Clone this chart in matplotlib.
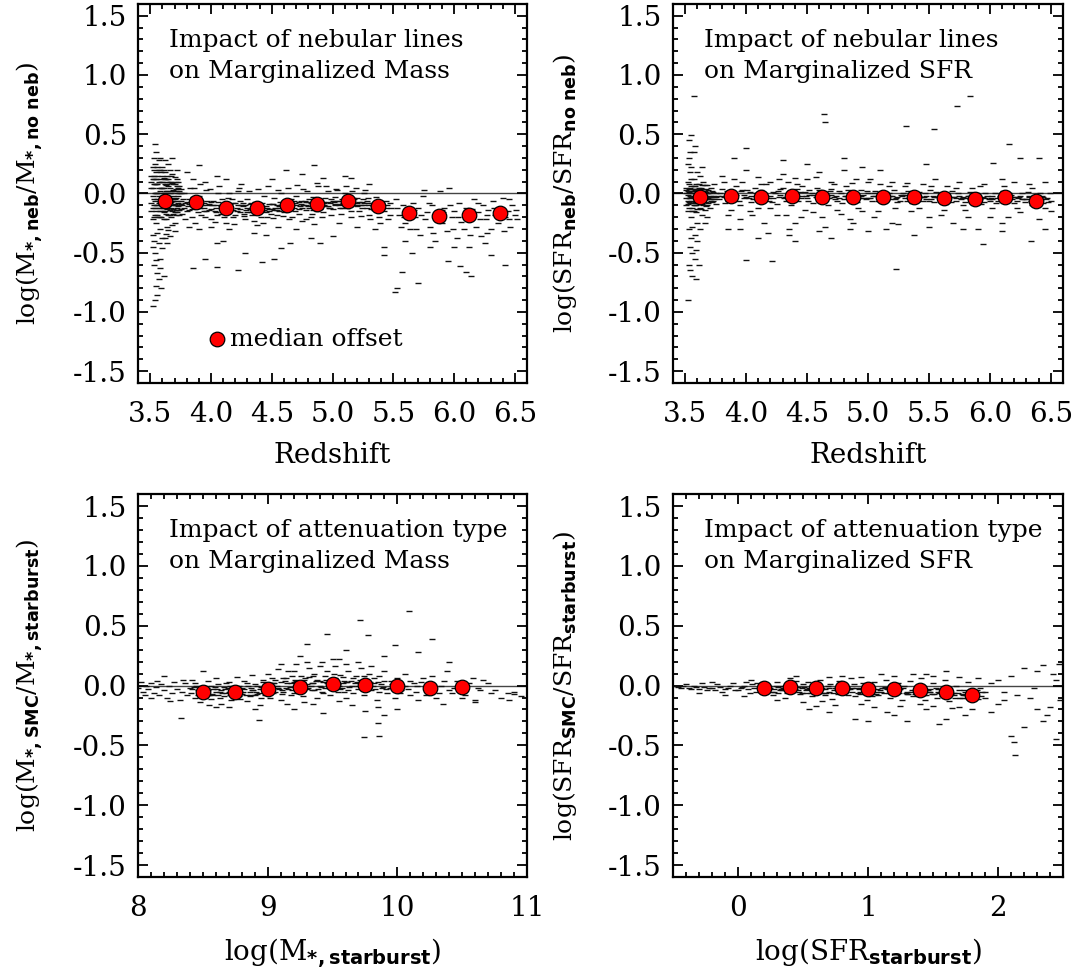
import numpy as np
import matplotlib
matplotlib.use('Agg')
import matplotlib.pyplot as plt
from matplotlib.ticker import MultipleLocator

plt.rcParams['font.family'] = ['DejaVu Serif']
plt.rcParams['mathtext.fontset'] = 'custom'
plt.rcParams['mathtext.rm'] = 'DejaVu Sans:bold'
plt.rcParams['mathtext.it'] = 'DejaVu Sans:bold'
plt.rcParams['mathtext.bf'] = 'DejaVu Sans:bold'

# median offsets (red circles)
z_bins = [3.625, 3.875, 4.125, 4.375, 4.625, 4.875, 5.125, 5.375, 5.625, 5.875, 6.125, 6.375]
neb_mass_med = [-0.063, -0.076, -0.12, -0.12, -0.094, -0.089, -0.063, -0.107, -0.168, -0.194, -0.186, -0.168]
neb_sfr_med = [-0.031, -0.024, -0.029, -0.024, -0.029, -0.026, -0.026, -0.034, -0.042, -0.047, -0.031, -0.06]

mass_bins = [8.5, 8.75, 9.0, 9.25, 9.5, 9.75, 10.0, 10.25, 10.5]
att_mass_med = [-0.05, -0.05, -0.029, -0.016, 0.01, 0.003, -0.005, -0.021, -0.016]

sfr_bins = [0.2, 0.4, 0.6, 0.8, 1.0, 1.2, 1.4, 1.6, 1.8]
att_sfr_med = [-0.018, -0.016, -0.018, -0.024, -0.026, -0.029, -0.037, -0.05, -0.076]

# individual galaxies, "x,y" pairs
neb_mass_pts = """
3.51,0.05 3.52,-0.02 3.52,0.12 3.53,-0.1 3.53,0.2 3.54,0.0 3.54,-0.18 3.55,0.08 3.55,-0.25 3.56,0.15
3.56,-0.05 3.57,0.28 3.57,-0.12 3.58,0.02 3.58,-0.3 3.59,0.1 3.59,-0.08 3.6,0.22 3.6,-0.15 3.61,0.05
3.61,-0.22 3.62,0.0 3.62,0.18 3.63,-0.1 3.63,0.12 3.64,-0.03 3.64,-0.28 3.65,0.25 3.65,0.06 3.66,-0.14
3.66,0.0 3.67,0.1 3.67,-0.2 3.68,-0.06 3.68,0.16 3.69,-0.1 3.69,0.03 3.7,-0.16 3.7,0.08 3.71,-0.04
3.72,-0.12 3.72,0.12 3.73,-0.08 3.74,0.02 3.74,-0.18 3.75,-0.06 3.52,-0.35 3.53,0.3 3.55,0.35 3.54,0.42
3.58,0.3 3.62,0.28 3.68,0.3 3.72,0.2 3.57,-0.2 3.6,-0.02 3.61,0.13 3.63,-0.17 3.66,0.2 3.7,-0.25
3.56,0.0 3.59,0.18 3.64,0.08 3.67,-0.04 3.53,0.08 3.51,-0.08 3.55,-0.1 3.58,-0.15 3.62,-0.07 3.65,-0.09
3.69,-0.13 3.73,0.05 3.6,0.1 3.57,0.05 3.64,0.15 3.71,0.1
3.51,0.15 3.51,-0.15 3.52,0.22 3.52,-0.22 3.53,-0.05 3.53,0.12 3.54,0.25 3.54,-0.12 3.55,0.0 3.55,0.18
3.56,-0.18 3.56,0.08 3.57,-0.02 3.57,0.2 3.58,-0.08 3.58,0.12 3.59,0.0 3.59,-0.2 3.6,0.05 3.6,-0.1
3.61,-0.12 3.61,0.2 3.62,-0.15 3.62,0.08 3.63,0.02 3.63,-0.22 3.64,0.1 3.64,-0.08 3.65,-0.02 3.65,-0.18
3.66,0.05 3.66,-0.08 3.67,0.15 3.67,-0.12 3.68,0.02 3.68,-0.15 3.69,0.08 3.69,-0.06 3.7,-0.05 3.7,0.14
3.71,-0.1 3.71,-0.18 3.72,0.0 3.72,-0.06 3.73,-0.14 3.73,0.1 3.74,-0.1 3.74,0.06 3.75,-0.13 3.75,0.0
3.51,0.1 3.52,0.05 3.52,-0.12 3.53,0.15 3.53,-0.2 3.54,0.08 3.54,-0.06 3.55,0.12 3.55,-0.15 3.56,0.22
3.56,-0.1 3.57,0.1 3.57,-0.08 3.58,0.2 3.58,-0.2 3.59,0.05 3.59,-0.12 3.6,0.15 3.6,-0.06 3.61,0.0
3.61,-0.16 3.62,0.12 3.62,-0.02 3.63,0.07 3.63,-0.05 3.64,0.02 3.64,-0.13 3.65,0.12 3.65,-0.12 3.66,0.1
3.66,-0.18 3.67,0.0 3.67,-0.07 3.68,0.09 3.68,-0.1 3.69,-0.02 3.69,-0.17 3.7,0.02 3.7,-0.09 3.71,0.04
3.71,-0.14 3.72,0.06 3.72,-0.16 3.73,-0.02 3.73,-0.11 3.74,0.0 3.74,-0.14 3.75,0.04 3.75,-0.09
3.52,-0.95 3.54,-0.9 3.56,-0.86 3.55,-0.78 3.57,-0.72 3.56,-0.67 3.53,-0.6 3.58,-0.55 3.54,-0.5 3.6,-0.46
3.57,-0.42 3.62,-0.38 3.63,-0.34 3.65,-0.31 3.59,-0.8 3.61,-0.7 3.52,-0.45 3.55,-0.56 3.58,-0.63 3.53,-0.4
3.56,-0.33 3.6,-0.38 3.64,-0.42 3.66,-0.36 3.68,-0.27 3.7,-0.32
3.76,-0.1 3.78,0.0 3.8,-0.15 3.82,-0.05 3.84,-0.2 3.86,0.05 3.88,-0.12 3.9,-0.02 3.92,-0.18 3.94,-0.08
3.96,0.03 3.98,-0.14 4.0,-0.22 4.02,-0.06 4.04,-0.12 4.06,0.0 4.08,-0.17 4.1,-0.09 4.12,-0.25 4.14,-0.04
4.16,-0.14 4.18,-0.2 4.2,-0.08 4.22,0.02 4.24,-0.16 4.26,-0.11 4.28,-0.22 4.3,-0.05 4.32,-0.13 4.34,-0.18
4.36,-0.07 4.38,-0.27 4.4,-0.1 4.42,-0.15 4.44,-0.02 4.46,-0.2 4.48,-0.09 4.5,-0.13 4.52,-0.04 4.54,-0.18
4.56,-0.11 4.58,0.0 4.6,-0.16 4.62,-0.08 4.64,-0.22 4.66,-0.05 4.68,-0.12 4.7,-0.02 4.72,-0.17 4.74,-0.09
4.76,0.04 4.78,-0.14 4.8,-0.07 4.82,-0.2 4.84,-0.03 4.86,-0.12 4.88,0.06 4.9,-0.1 4.92,-0.16 4.94,-0.04
4.96,0.02 4.98,-0.08 5.0,-0.13 5.02,-0.03 5.04,0.03 5.06,-0.09 5.08,-0.05 5.1,0.0 5.12,-0.12 5.14,-0.06
5.16,0.02 5.18,-0.1 5.2,-0.04 5.22,-0.15 5.24,-0.07 5.26,0.0 5.28,-0.12 5.3,-0.18 5.32,-0.08 5.34,-0.14
5.36,-0.03 5.38,-0.2 5.4,-0.1 5.42,-0.15 5.44,-0.06 5.46,-0.22 5.48,-0.12
3.77,-0.05 3.81,-0.11 3.85,-0.08 3.89,-0.16 3.93,-0.1 3.97,-0.06 4.01,-0.1 4.05,-0.18 4.09,-0.13 4.13,-0.09
4.17,-0.05 4.21,-0.15 4.25,-0.1 4.29,-0.14 4.33,-0.08 4.37,-0.12 4.41,-0.2 4.45,-0.11 4.49,-0.17 4.53,-0.12
4.57,-0.07 4.61,-0.1 4.65,-0.14 4.69,-0.08 4.73,-0.11 4.77,-0.06 4.81,-0.12 4.85,-0.09 4.89,-0.05 4.93,-0.1
4.97,-0.12 5.01,-0.07 5.05,-0.1 5.09,-0.08 5.13,-0.03 5.17,-0.07 5.21,-0.1 5.25,-0.05 5.29,-0.08 5.33,-0.11
5.37,-0.09 5.41,-0.13 5.45,-0.1
3.76,-0.17 3.79,-0.08 3.82,-0.14 3.85,-0.03 3.88,-0.07 3.91,-0.12 3.94,-0.15 3.97,-0.1 4.0,-0.07 4.03,-0.15
4.06,-0.1 4.09,-0.05 4.12,-0.15 4.15,-0.11 4.18,-0.08 4.21,-0.12 4.24,-0.06 4.27,-0.17 4.3,-0.12 4.33,-0.16
4.36,-0.14 4.39,-0.08 4.42,-0.11 4.45,-0.16 4.48,-0.13 4.51,-0.09 4.54,-0.14 4.57,-0.12 4.6,-0.06 4.63,-0.12
4.66,-0.1 4.69,-0.15 4.72,-0.07 4.75,-0.12 4.78,-0.1 4.81,-0.05 4.84,-0.1 4.87,-0.15 4.9,-0.06 4.93,-0.08
4.96,-0.11 4.99,-0.05 5.02,-0.1 5.05,-0.06 5.08,-0.12 5.11,-0.07 5.14,-0.09 5.17,-0.04 5.2,-0.08 5.23,-0.1
5.26,-0.08 5.29,-0.04 5.32,-0.13 5.35,-0.1 5.38,-0.06 5.41,-0.08 5.44,-0.12 5.47,-0.08
3.78,-0.12 3.8,-0.07 3.82,-0.09 3.84,-0.13 3.86,-0.1 3.88,-0.03 3.9,-0.09 3.92,-0.06 3.94,-0.12 3.96,-0.15
3.98,-0.09 4.0,-0.13 4.02,-0.1 4.04,-0.16 4.06,-0.07 4.08,-0.11 4.1,-0.14 4.12,-0.07 4.14,-0.12 4.16,-0.09
4.18,-0.14 4.2,-0.18 4.22,-0.1 4.24,-0.13 4.26,-0.08 4.28,-0.1 4.3,-0.16 4.32,-0.09 4.34,-0.12 4.36,-0.1
4.38,-0.15 4.4,-0.13 4.42,-0.08 4.44,-0.14 4.46,-0.12 4.48,-0.15 4.5,-0.09 4.52,-0.14 4.54,-0.1 4.56,-0.15
4.58,-0.1 4.6,-0.12 4.62,-0.15 4.64,-0.09 4.66,-0.13 4.68,-0.06 4.7,-0.1 4.72,-0.13 4.74,-0.06 4.76,-0.1
4.78,-0.07 4.8,-0.11 4.82,-0.08 4.84,-0.14 4.86,-0.07 4.88,-0.1 4.9,-0.13 4.92,-0.07 4.94,-0.11 4.96,-0.07
4.98,-0.12 5.0,-0.06 5.02,-0.09 5.04,-0.06 5.06,-0.12 5.08,-0.09 5.1,-0.06 5.12,-0.04 5.14,-0.11 5.16,-0.08
5.18,-0.05 5.2,-0.11 5.22,-0.07 5.24,-0.12 5.26,-0.1 5.28,-0.06 5.3,-0.1
3.79,-0.22 3.87,-0.25 3.95,-0.2 4.03,-0.24 4.11,-0.2 4.19,-0.26 4.27,-0.19 4.35,-0.23 4.43,-0.25 4.51,-0.21
4.59,-0.19 4.67,-0.2 4.75,-0.23 4.83,-0.17 4.91,-0.2 4.99,-0.18 5.07,-0.17 5.15,-0.15 5.23,-0.19 5.31,-0.22
5.39,-0.25 5.47,-0.18
3.83,0.05 3.91,0.08 3.99,0.04 4.07,0.06 4.15,0.0 4.23,0.05 4.31,0.02 4.39,0.04 4.47,0.06 4.55,0.03
4.63,0.05 4.71,0.07 4.79,0.02 4.87,0.09 4.95,0.06 5.03,0.04 5.11,0.06 5.19,0.05 5.27,0.03
3.8,0.18 3.85,0.12 3.9,0.24 3.95,0.1 4.05,0.15 4.12,0.12 4.25,0.08 4.5,0.12 4.62,0.2 4.75,0.16
4.85,0.24 4.92,0.13 5.1,0.15 5.15,0.13 5.3,0.08 3.85,-0.63 4.05,-0.62 4.22,-0.65 3.95,-0.55 4.42,-0.58
4.52,-0.55 4.58,-0.46 4.1,-0.4 4.05,-0.42 4.28,-0.5 4.9,-0.42 5.0,-0.36 4.65,-0.42 4.82,-0.38 5.42,-0.45
5.42,-0.52 3.9,-0.3 4.0,-0.28 4.15,-0.3 4.35,-0.33 4.55,-0.28 4.7,-0.3 4.85,-0.26 5.05,-0.25 5.2,-0.28
5.35,-0.3 3.82,-0.28 4.45,-0.35 4.78,-0.22 5.15,-0.2
5.52,-0.05 5.55,-0.18 5.58,-0.1 5.6,-0.25 5.62,-0.15 5.64,-0.3 5.66,-0.08 5.68,-0.2 5.7,-0.12 5.72,-0.35
5.74,-0.02 5.76,-0.22 5.78,-0.16 5.8,-0.28 5.82,-0.1 5.84,-0.4 5.86,-0.18 5.88,0.02 5.9,-0.25 5.92,-0.12
5.94,-0.32 5.96,0.05 5.98,-0.2 6.0,-0.15 6.02,-0.38 6.04,-0.08 6.06,-0.24 6.08,-0.3 6.1,-0.12 6.12,-0.45
6.14,-0.2 6.16,-0.05 6.18,-0.28 6.2,-0.16 6.22,-0.36 6.24,-0.1 6.26,-0.22 6.28,-0.14 6.3,-0.3 6.32,-0.06
6.34,-0.18 6.36,-0.25 6.38,-0.12 6.4,-0.04 6.42,-0.2 6.44,-0.15 6.46,-0.28 6.48,-0.1 6.5,-0.18 6.52,-0.22
5.53,-0.12 5.59,-0.2 5.67,-0.14 5.73,-0.18 5.79,-0.08 5.85,-0.22 5.91,-0.16 5.97,-0.1 6.03,-0.2 6.09,-0.17
6.15,-0.13 6.21,-0.22 6.27,-0.18 6.33,-0.12 6.39,-0.2 6.45,-0.22 6.51,-0.14 5.56,-0.28 5.69,-0.3 5.83,-0.33
5.99,-0.3 6.13,-0.35 6.27,-0.33 6.41,-0.32
5.53,-0.8 5.51,-0.83 5.7,-0.76 5.57,-0.66 6.05,-0.61 6.1,-0.66 6.14,-0.7 6.42,-0.6 5.95,-0.57 6.3,-0.52
5.65,-0.5 5.8,-0.45 5.6,-0.4 6.0,-0.45 6.25,-0.42 5.75,0.03 6.45,-0.05 5.63,-0.12 5.9,-0.14 6.2,-0.08
"""

neb_sfr_pts = """
3.51,0.0 3.52,-0.06 3.52,0.1 3.53,-0.12 3.53,0.04 3.54,-0.02 3.54,0.18 3.55,-0.2 3.55,0.06 3.56,-0.08
3.56,0.0 3.57,0.12 3.57,-0.15 3.58,-0.04 3.58,0.03 3.59,-0.1 3.59,0.08 3.6,-0.03 3.6,-0.25 3.61,0.02
3.61,-0.07 3.62,0.15 3.62,-0.12 3.63,-0.02 3.63,0.05 3.64,-0.09 3.64,-0.18 3.65,0.0 3.65,0.1 3.66,-0.05
3.66,-0.14 3.67,0.04 3.67,-0.02 3.68,-0.1 3.68,0.07 3.69,-0.04 3.7,0.0 3.7,-0.12 3.71,0.05 3.72,-0.07
3.73,-0.02 3.74,0.08 3.75,-0.09 3.52,0.25 3.53,0.3 3.55,0.22 3.57,0.35 3.6,0.18 3.64,0.22 3.53,-0.3
3.56,-0.28 3.58,-0.35 3.6,-0.4 3.62,-0.3 3.54,-0.45 3.56,-0.5 3.59,-0.48 3.55,-0.38 3.66,-0.25 3.68,-0.2
3.51,0.05 3.51,-0.1 3.52,0.02 3.52,-0.15 3.53,-0.04 3.53,0.08 3.54,0.0 3.54,-0.08 3.55,-0.03 3.55,0.12
3.56,0.04 3.56,-0.12 3.57,-0.06 3.57,0.02 3.58,0.06 3.58,-0.1 3.59,-0.02 3.59,-0.16 3.6,0.04 3.6,-0.08
3.61,-0.03 3.61,0.08 3.62,-0.05 3.62,0.02 3.63,-0.08 3.63,-0.13 3.64,0.0 3.64,0.04 3.65,-0.06 3.65,-0.1
3.66,0.02 3.66,0.07 3.67,-0.07 3.67,-0.11 3.68,0.0 3.69,-0.08 3.69,0.03 3.7,-0.05 3.71,-0.02 3.72,0.02
3.73,-0.06 3.74,-0.03 3.75,0.0
3.51,0.03 3.51,-0.04 3.52,-0.01 3.52,-0.09 3.53,0.01 3.53,-0.07 3.54,0.05 3.54,-0.04 3.55,-0.06 3.55,0.02
3.56,-0.02 3.56,-0.15 3.57,0.06 3.57,-0.1 3.58,0.0 3.58,-0.07 3.59,0.04 3.59,-0.05 3.6,0.0 3.6,-0.13
3.61,-0.05 3.61,0.05 3.62,-0.08 3.62,0.0 3.63,0.02 3.63,-0.04 3.64,-0.05 3.64,0.07 3.65,-0.03 3.66,-0.02
3.67,0.01 3.68,-0.05 3.69,0.0 3.7,-0.03 3.71,-0.06 3.72,-0.03 3.73,0.01 3.74,-0.05 3.75,-0.03
3.52,-0.9 3.59,-0.72 3.54,-0.65 3.56,-0.7 3.53,-0.6 3.58,-0.55 3.61,-0.6
3.57,0.82 3.55,0.49 3.53,0.45 3.58,0.4 3.54,0.35
3.77,-0.02 3.8,0.04 3.83,-0.08 3.86,0.0 3.89,-0.05 3.92,0.06 3.95,-0.1 3.98,-0.01 4.01,0.03 4.04,-0.07
4.07,0.05 4.1,-0.12 4.13,-0.03 4.16,0.08 4.19,-0.06 4.22,0.01 4.25,-0.09 4.28,0.04 4.31,-0.04 4.34,0.1
4.37,-0.1 4.4,0.0 4.43,-0.06 4.46,0.06 4.49,-0.02 4.52,0.03 4.55,-0.08 4.58,0.05 4.61,-0.04 4.64,0.0
4.67,-0.1 4.7,0.04 4.73,-0.05 4.76,0.02 4.79,-0.08 4.82,0.06 4.85,-0.03 4.88,0.01 4.91,-0.07 4.94,0.03
4.97,-0.04 5.0,0.0 5.03,-0.06 5.06,0.02 5.09,-0.03 5.12,-0.08 5.15,0.01 5.18,-0.05 5.21,0.03 5.24,-0.07
5.27,-0.01 5.3,-0.04 5.33,0.02 5.36,-0.08 5.39,-0.03 5.42,0.01 5.45,-0.06 5.48,-0.02 5.51,0.03 5.54,-0.07
5.57,-0.03 5.6,0.0 5.63,-0.09 5.66,-0.04 5.69,0.02 5.72,-0.06 5.75,-0.02 5.78,-0.1 5.81,-0.04 5.84,0.01
5.87,-0.07 5.9,-0.03 5.93,-0.09 5.96,0.0 5.99,-0.05 6.02,-0.02 6.05,-0.08 6.08,-0.03 6.11,0.02 6.14,-0.06
6.17,-0.01 6.2,-0.08 6.23,-0.04 6.26,0.0 6.29,-0.07 6.32,-0.03 6.35,-0.1 6.38,-0.05 6.41,0.0 6.44,-0.08
6.47,-0.04 6.5,-0.06
3.78,-0.05 3.84,0.02 3.9,-0.03 3.96,0.02 4.02,-0.04 4.08,0.0 4.14,-0.05 4.2,-0.02 4.26,0.02 4.32,-0.03
4.38,-0.06 4.44,0.01 4.5,-0.04 4.56,-0.01 4.62,0.02 4.68,-0.04 4.74,-0.02 4.8,-0.05 4.86,0.0 4.92,-0.02
4.98,-0.05 5.04,-0.02 5.1,0.0 5.16,-0.03 5.22,-0.05 5.28,-0.02 5.34,-0.04 5.4,-0.06 5.46,-0.03 5.52,-0.05
5.58,-0.02 5.64,-0.05 5.7,-0.03 5.76,-0.05 5.82,-0.02 5.88,-0.05 5.94,-0.03 6.0,-0.06 6.06,-0.04 6.12,-0.02
6.18,-0.05 6.24,-0.03 6.3,-0.05 6.36,-0.02 6.42,-0.05 6.48,-0.07
3.8,-0.02 3.86,-0.03 3.92,-0.01 3.98,-0.04 4.04,-0.02 4.1,-0.04 4.16,-0.02 4.22,-0.04 4.28,-0.01 4.34,-0.04
4.4,-0.03 4.46,-0.02 4.52,-0.01 4.58,-0.03 4.64,-0.04 4.7,-0.01 4.76,-0.04 4.82,-0.02 4.88,-0.04 4.94,-0.02
5.0,-0.04 5.06,-0.02 5.12,-0.04 5.18,-0.02 5.24,-0.03 5.3,-0.01 5.36,-0.04 5.42,-0.02 5.48,-0.05 5.54,-0.03
5.6,-0.04 5.66,-0.02 5.72,-0.04 5.78,-0.03 5.84,-0.05 5.9,-0.02 5.96,-0.04 6.02,-0.05 6.08,-0.02 6.14,-0.04
6.2,-0.03 6.26,-0.05 6.32,-0.02 6.38,-0.06 6.44,-0.03
3.79,0.0 3.82,-0.03 3.85,-0.06 3.88,0.02 3.91,-0.02 3.94,-0.06 3.97,0.03 4.0,-0.03 4.03,0.01 4.06,-0.05
4.09,-0.02 4.12,0.03 4.15,-0.01 4.18,-0.04 4.21,-0.07 4.24,0.0 4.27,-0.03 4.3,0.05 4.33,-0.06 4.36,0.02
4.39,-0.02 4.42,0.04 4.45,-0.04 4.48,0.01 4.51,-0.06 4.54,0.0 4.57,-0.03 4.6,0.03 4.63,-0.06 4.66,-0.01
4.69,0.02 4.72,-0.03 4.75,-0.06 4.78,0.0 4.81,-0.02 4.84,0.03 4.87,-0.05 4.9,0.0 4.93,-0.04 4.96,-0.01
4.99,0.02 5.02,-0.04 5.05,0.0 5.08,-0.06 5.11,-0.02 5.14,-0.04 5.17,0.0 5.2,-0.02 5.23,-0.04 5.26,-0.06
5.29,0.0 5.32,-0.06 5.35,-0.02 5.38,0.0 5.41,-0.05 5.44,-0.03 5.47,0.0 5.5,-0.06 5.53,-0.02 5.56,0.01
5.59,-0.05 5.62,-0.03 5.65,0.0 5.68,-0.07 5.71,-0.03 5.74,0.0 5.77,-0.04 5.8,-0.07 5.83,-0.02 5.86,-0.04
5.89,0.0 5.92,-0.05 5.95,-0.07 5.98,-0.02 6.01,-0.04 6.04,0.0 6.07,-0.06 6.1,-0.03 6.13,-0.05 6.16,0.0
6.19,-0.03 6.22,-0.06 6.25,-0.02 6.28,-0.05 6.31,0.01 6.34,-0.06 6.37,-0.04 6.4,-0.07 6.43,-0.02 6.46,-0.05
6.49,0.0
3.8,0.15 3.85,-0.18 3.9,0.12 3.95,-0.22 4.0,0.2 4.03,-0.15 4.1,0.14 4.15,-0.25 4.2,0.1 4.25,-0.18
4.3,0.16 4.35,-0.3 4.4,0.13 4.45,-0.2 4.5,0.12 4.55,-0.16 4.6,0.18 4.65,-0.28 4.7,0.1 4.75,-0.14
4.8,0.2 4.85,-0.22 4.9,0.12 4.95,-0.15 5.0,0.1 5.05,-0.2 5.1,0.08 5.15,-0.3 5.2,0.1 5.25,-0.26
5.3,0.06 5.35,-0.15 5.45,0.08 5.5,-0.2 5.55,0.12 5.6,-0.18 5.65,0.06 5.7,-0.25 5.75,0.1 5.8,-0.14
5.85,0.05 5.9,-0.3 5.95,0.08 6.0,-0.2 6.1,0.12 6.15,-0.2 6.2,0.1 6.25,-0.16 6.35,0.05 6.4,-0.22
6.45,0.1 6.5,-0.15
3.82,0.1 3.88,-0.14 3.97,0.1 4.05,-0.18 4.12,0.08 4.2,-0.12 4.27,0.12 4.33,-0.18 4.42,0.08 4.48,-0.14
4.57,0.14 4.62,-0.2 4.72,0.08 4.78,-0.17 4.87,0.09 4.92,-0.12 5.02,0.12 5.08,-0.15 5.17,0.06 5.22,-0.12
5.32,0.09 5.42,-0.12 5.52,0.06 5.62,-0.14 5.72,0.05 5.82,-0.2 5.92,0.06 6.02,-0.12 6.12,0.06 6.22,-0.12
6.32,0.08 6.45,-0.12 3.85,-0.3 4.18,-0.33 4.4,-0.25 4.6,-0.32 4.88,-0.25 5.2,-0.25 5.5,-0.28 5.78,-0.3
6.1,-0.25 6.45,-0.3
4.21,1.35 4.42,1.06 4.64,0.67 4.65,0.6 5.84,0.82 5.73,0.74 5.31,0.57 5.54,0.54 4.0,0.38 6.16,0.42
6.25,0.3 6.4,0.3 6.03,0.26 5.48,0.25 4.0,-0.56 4.21,-0.57 5.23,-0.64 5.94,-0.43 6.34,-0.4 4.4,-0.4
4.35,-0.35 4.1,-0.38 5.38,-0.35 6.1,-0.32 4.85,-0.3 5.0,-0.32 4.7,-0.38 3.95,-0.3 4.5,0.25 4.95,0.22
3.9,0.3 4.3,0.28 5.1,0.2 4.8,0.3
"""

att_mass_pts = """
8.0,-0.02 8.02,0.03 8.04,-0.05 8.06,0.0 8.08,-0.03 8.1,0.02 8.12,-0.06 8.14,-0.01 8.16,-0.08 8.18,0.01
8.2,-0.04 8.22,-0.1 8.24,0.0 8.26,-0.06 8.28,0.03 8.3,-0.03 8.32,-0.12 8.34,-0.05 8.36,0.02 8.38,-0.08
8.4,-0.02 8.42,0.05 8.44,-0.1 8.46,-0.04 8.48,-0.14 8.5,0.0 8.52,-0.07 8.54,0.04 8.56,-0.11 8.58,-0.03
8.6,0.06 8.62,-0.08 8.64,-0.15 8.66,-0.01 8.68,-0.06 8.7,0.03 8.72,-0.12 8.74,-0.04 8.76,0.07 8.78,-0.09
8.8,-0.02 8.82,0.04 8.84,-0.13 8.86,-0.05 8.88,0.09 8.9,-0.08 8.92,0.0 8.94,-0.16 8.96,0.05 8.98,-0.03
9.0,0.1 9.02,-0.1 9.04,0.02 9.06,-0.05 9.08,0.14 9.1,-0.12 9.12,0.06 9.14,-0.02 9.16,0.12 9.18,-0.08
9.2,0.03 9.22,0.18 9.24,-0.06 9.26,0.08 9.28,-0.14 9.3,0.01 9.32,0.15 9.34,-0.04 9.36,0.1 9.38,-0.1
9.4,0.04 9.42,0.2 9.44,-0.02 9.46,0.12 9.48,-0.08 9.5,0.06 9.52,0.16 9.54,-0.05 9.56,0.09 9.58,0.02
9.6,-0.1 9.62,0.12 9.64,0.04 9.66,-0.06 9.68,0.08 9.7,0.0 9.72,0.15 9.74,-0.08 9.76,0.05 9.78,0.1
9.8,-0.04 9.82,0.02 9.84,-0.12 9.86,0.08 9.88,-0.02 9.9,0.12 9.92,-0.06 9.95,0.04 9.98,-0.1 10.0,0.06
10.03,-0.04 10.06,0.1 10.1,-0.08 10.13,0.02 10.16,-0.12 10.2,0.06 10.23,-0.04 10.27,0.08 10.3,-0.1 10.34,0.0
10.38,0.12 10.42,-0.06 10.46,0.04 10.5,-0.1 10.55,0.02 10.6,-0.12 10.66,0.05 10.72,-0.06 10.8,-0.1 10.86,-0.12
10.9,-0.07
8.41,-0.06 8.45,0.0 8.49,-0.05 8.53,-0.02 8.57,-0.07 8.61,-0.03 8.65,-0.06 8.69,-0.02 8.73,-0.07 8.77,-0.03
8.81,-0.05 8.85,0.0 8.89,-0.04 8.93,-0.06 8.97,-0.01 9.01,-0.04 9.05,0.02 9.09,-0.03 9.13,0.04 9.17,-0.01
9.21,0.05 9.25,-0.02 9.29,0.06 9.33,0.0 9.37,0.04 9.41,-0.01 9.45,0.05 9.49,0.01 9.53,0.04 9.57,-0.02
9.61,0.03 9.65,0.0 9.69,0.03 9.73,-0.02 9.77,0.02 9.81,0.0 9.85,0.03 9.89,-0.01 8.63,-0.1 8.71,0.0
8.79,-0.11 8.87,-0.08 8.95,-0.1 9.03,0.06 9.11,-0.07 9.19,0.08 9.27,-0.09 9.35,0.08 9.43,-0.06 9.51,0.1
9.59,-0.05
8.42,-0.03 8.44,0.02 8.46,-0.08 8.48,-0.01 8.5,-0.05 8.52,-0.1 8.54,-0.04 8.56,0.0 8.58,-0.08 8.6,-0.05
8.62,0.01 8.64,-0.04 8.66,-0.09 8.68,0.02 8.7,-0.05 8.72,-0.02 8.74,-0.1 8.76,-0.05 8.78,0.0 8.8,-0.07
8.82,-0.03 8.84,0.02 8.86,-0.09 8.88,-0.04 8.9,0.01 8.92,-0.07 8.94,-0.03 8.96,0.03 8.98,-0.08 9.0,-0.04
9.02,0.02 9.04,-0.06 9.06,0.05 9.08,-0.02 9.1,0.03 9.12,-0.05 9.14,0.06 9.16,-0.03 9.18,0.02 9.2,-0.06
9.22,0.04 9.24,0.0 9.26,-0.05 9.28,0.05 9.3,-0.03 9.32,0.07 9.34,0.02 9.36,-0.04 9.38,0.05 9.4,0.0
9.42,-0.05 9.44,0.08 9.46,0.02 9.48,0.04 9.5,-0.02 9.52,0.06 9.54,0.01 9.56,-0.03 9.58,0.07 9.6,0.03
9.62,-0.04 9.66,0.06 9.7,-0.03 9.74,0.08 9.78,-0.02 9.82,0.06 9.86,-0.05 9.9,0.04 9.94,-0.02 9.98,0.02
10.02,-0.06 10.06,0.0 10.1,0.04 10.14,-0.05 10.18,0.03 10.22,-0.08 10.26,0.0 10.32,-0.06 10.36,0.04 10.44,-0.02
10.52,-0.08 10.58,0.06 10.64,-0.04 10.7,0.02
8.43,-0.01 8.47,-0.06 8.51,-0.03 8.55,-0.08 8.59,-0.01 8.63,-0.05 8.67,-0.03 8.71,-0.08 8.75,-0.01 8.79,-0.05
8.83,-0.08 8.87,-0.02 8.91,-0.05 8.95,-0.01 8.99,-0.06 9.03,-0.02 9.07,0.0 9.11,-0.04 9.15,0.02 9.19,-0.04
9.23,0.01 9.27,0.03 9.31,-0.02 9.35,0.02 9.39,-0.03 9.43,0.03 9.47,-0.02 9.51,0.03 9.55,0.0 9.59,0.04
9.63,-0.01 9.67,0.02 9.71,0.05 9.75,0.0 9.79,0.03 9.83,-0.03 9.87,0.01 9.91,-0.03 9.96,0.01 10.01,-0.02
10.08,-0.03 10.15,0.0 10.24,-0.03 10.4,-0.04 10.48,0.0 10.62,-0.02 10.75,-0.04 10.85,-0.06 10.95,-0.09
9.1,0.18 9.2,0.12 9.3,0.2 9.4,0.16 9.5,0.22 9.6,0.18 9.7,0.2 9.8,0.16 9.15,-0.15 9.35,-0.15
9.55,-0.13 9.65,-0.16 9.85,-0.18 8.7,-0.18 8.9,-0.2 8.55,-0.16 8.25,-0.13 8.05,-0.08 8.15,0.04 8.35,0.05
9.71,0.55 10.09,0.62 9.77,0.42 10.27,0.39 9.46,0.43 9.98,0.34 10.16,0.28 9.3,0.35 9.6,0.3 9.9,0.25
10.4,0.2 9.25,0.25 9.55,0.22 9.74,-0.43 9.86,-0.42 9.85,-0.31 8.93,-0.29 8.33,-0.27 9.43,-0.23 9.75,-0.21
9.9,-0.25 10.0,-0.2 9.2,-0.2 8.6,-0.18 10.35,-0.15 10.6,-0.14 8.2,0.08 8.5,0.12 10.9,-0.05 8.1,-0.1
"""

att_sfr_pts = """
-0.48,0.0 -0.44,-0.02 -0.4,0.01 -0.36,-0.03 -0.32,-0.01 -0.28,0.02 -0.24,-0.04 -0.2,-0.02 -0.16,0.01 -0.12,-0.05
-0.08,-0.02 -0.04,0.02 0.0,-0.04 0.03,-0.01 0.06,0.03 0.09,-0.06 0.12,-0.02 0.15,0.02 0.18,-0.04 -0.1,-0.08
-0.3,-0.06 0.05,-0.09 -0.2,0.03 0.1,0.05
-0.46,-0.01 -0.42,0.0 -0.38,-0.02 -0.34,0.0 -0.3,-0.03 -0.26,-0.01 -0.22,-0.02 -0.18,-0.04 -0.14,-0.01 -0.1,-0.03
-0.06,0.0 -0.02,-0.04 0.02,-0.02 0.05,0.0 0.08,-0.03 0.11,0.01 0.14,-0.05 0.17,-0.01 0.19,0.03
0.21,-0.05 0.24,0.0 0.27,-0.08 0.3,0.03 0.33,-0.03 0.36,-0.1 0.39,0.02 0.42,-0.05 0.45,0.04 0.48,-0.07
0.51,-0.01 0.54,0.03 0.57,-0.09 0.6,-0.03 0.63,0.05 0.66,-0.06 0.69,0.0 0.72,-0.11 0.75,-0.02 0.78,0.04
0.81,-0.07 0.84,-0.01 0.87,0.06 0.9,-0.09 0.93,-0.03 0.96,0.02 0.99,-0.12 1.02,-0.05 1.05,0.03 1.08,-0.08
1.11,-0.02 1.14,0.05 1.17,-0.1 1.2,-0.04 1.23,0.02 1.26,-0.12 1.29,-0.06 1.32,0.04 1.35,-0.09 1.38,-0.02
1.41,0.06 1.44,-0.12 1.47,-0.05 1.5,0.02 1.53,-0.1 1.56,-0.03 1.59,0.05 1.62,-0.13 1.65,-0.06 1.68,0.0
1.71,-0.1 1.74,-0.04 1.77,0.03 1.8,-0.12 1.83,-0.06 1.86,-0.02
0.22,-0.02 0.28,-0.03 0.34,0.0 0.4,-0.03 0.46,-0.01 0.52,-0.04 0.58,-0.01 0.64,-0.03 0.7,-0.05 0.76,-0.02
0.82,-0.04 0.88,-0.02 0.94,-0.05 1.0,-0.03 1.06,-0.05 1.12,-0.02 1.18,-0.04 1.24,-0.03 1.3,-0.05 1.36,-0.04
1.42,-0.06 1.48,-0.03 1.54,-0.05 1.6,-0.04 1.66,-0.06 1.72,-0.07 1.78,-0.05 0.31,-0.06 0.49,-0.06 0.67,-0.08
0.85,-0.08 1.03,-0.09 1.21,-0.08 1.39,-0.08 1.57,-0.09 1.75,-0.08
0.23,-0.03 0.26,-0.05 0.29,0.0 0.32,-0.04 0.35,-0.02 0.38,-0.06 0.41,0.0 0.44,-0.03 0.47,-0.05 0.5,0.01
0.53,-0.03 0.56,-0.06 0.59,0.01 0.62,-0.04 0.65,-0.02 0.68,-0.06 0.71,0.01 0.74,-0.04 0.77,-0.07 0.8,-0.01
0.83,-0.05 0.86,-0.03 0.89,0.01 0.92,-0.06 0.95,-0.02 0.98,-0.04 1.01,0.0 1.04,-0.07 1.07,-0.03 1.1,-0.05
1.13,-0.01 1.16,-0.06 1.19,-0.02 1.22,-0.07 1.25,-0.03 1.28,0.0 1.31,-0.07 1.34,-0.04 1.37,-0.06 1.4,-0.02
1.43,-0.08 1.46,-0.04 1.49,-0.07 1.52,-0.02 1.55,-0.06 1.58,-0.08 1.61,-0.03 1.64,-0.07 1.67,-0.1 1.7,-0.04
1.73,-0.08 1.76,-0.1 1.79,-0.03 1.82,-0.09 1.85,-0.11 1.88,-0.05
0.22,-0.04 0.25,-0.02 0.28,-0.05 0.31,-0.01 0.34,-0.04 0.37,-0.02 0.4,-0.05 0.43,-0.01 0.46,-0.04 0.49,-0.02
0.52,-0.06 0.55,-0.02 0.58,-0.05 0.61,-0.01 0.64,-0.06 0.67,-0.03 0.7,-0.02 0.73,-0.06 0.76,-0.04 0.79,-0.02
0.82,-0.06 0.85,-0.03 0.88,-0.05 0.91,-0.02 0.94,-0.07 0.97,-0.03 1.0,-0.05 1.03,-0.02 1.06,-0.07 1.09,-0.04
1.12,-0.06 1.15,-0.03 1.18,-0.07 1.21,-0.04 1.24,-0.06 1.27,-0.02 1.3,-0.07 1.33,-0.05 1.36,-0.07 1.39,-0.03
1.42,-0.04 1.45,-0.08 1.48,-0.05 1.51,-0.07 1.54,-0.03 1.57,-0.06 1.6,-0.09 1.63,-0.05 1.66,-0.08 1.69,-0.06
1.72,-0.1 1.75,-0.05 1.78,-0.09 1.81,-0.07 1.84,-0.04 1.87,-0.09
0.3,-0.12 0.5,-0.14 0.65,-0.13 0.75,-0.16 0.95,-0.15 1.05,-0.18 1.25,-0.17 1.4,-0.15 1.5,-0.17 1.65,-0.19
1.8,-0.2 0.45,0.08 0.7,0.07 0.95,0.07 1.2,0.08 1.45,0.1 1.7,0.07 1.95,0.02 2.05,-0.12 2.15,-0.08
2.28,-0.02 2.35,-0.3 2.45,0.05
0.55,-0.2 0.6,-0.17 0.7,-0.22 0.9,-0.28 1.0,-0.3 1.15,-0.22 1.2,-0.25 1.3,-0.3 1.45,-0.2 1.55,-0.32
1.6,-0.28 1.7,-0.18 1.75,-0.25 1.9,-0.1 1.95,-0.22 2.0,-0.15 2.05,-0.05 2.1,-0.42 2.12,-0.47 2.13,-0.58
2.2,-0.35 2.3,-0.2 2.4,-0.18 2.45,-0.45 2.48,-0.12 2.0,0.05 2.1,0.08 2.2,0.15 2.3,0.12 2.35,0.17
2.42,0.1 2.47,0.18 1.85,0.06 1.6,0.12 1.5,0.08 1.1,0.1 0.8,0.08 0.4,0.06 1.35,0.1 2.25,-0.1
1.9,-0.05 2.38,-0.25
"""

titles = ['Impact of nebular lines\non Marginalized Mass',
          'Impact of nebular lines\non Marginalized SFR',
          'Impact of attenuation type\non Marginalized Mass',
          'Impact of attenuation type\non Marginalized SFR']
ylabels = [r'log(M$_{*,neb}$/M$_{*,no\ neb}$)',
           r'log(SFR$_{neb}$/SFR$_{no\ neb}$)',
           r'log(M$_{*,SMC}$/M$_{*,starburst}$)',
           r'log(SFR$_{SMC}$/SFR$_{starburst}$)']
xlabels = ['Redshift', 'Redshift', r'log(M$_{*,starburst}$)', r'log(SFR$_{starburst}$)']


def parse(block):
    pairs = [tok.split(',') for tok in block.split()]
    return np.array([float(p[0]) for p in pairs]), np.array([float(p[1]) for p in pairs])


fig = plt.figure(figsize=(10.75, 9.72), dpi=100)
rects = [[0.1284, 0.606, 0.3619, 0.390],
         [0.626, 0.606, 0.3628, 0.390],
         [0.1284, 0.0977, 0.3619, 0.394],
         [0.626, 0.0977, 0.3628, 0.394]]
xlims = [(3.4, 6.6), (3.4, 6.6), (8, 11), (-0.5, 2.5)]
xmajor = [0.5, 0.5, 1, 1]
points = [neb_mass_pts, neb_sfr_pts, att_mass_pts, att_sfr_pts]
med_x = [z_bins, z_bins, mass_bins, sfr_bins]
med_y = [neb_mass_med, neb_sfr_med, att_mass_med, att_sfr_med]

for i in range(4):
    ax = fig.add_axes(rects[i])
    px, py = parse(points[i])
    ax.plot(px, py, linestyle='none', marker='_', markersize=4, markeredgewidth=1.0, color='#111111')
    ax.axhline(0, color='#444444', lw=1.0, zorder=1)
    ax.plot(med_x[i], med_y[i], linestyle='none', marker='o', markersize=10.5,
            markerfacecolor='#ff0000', markeredgecolor='black', markeredgewidth=0.9, zorder=5)

    ax.set_xlim(*xlims[i])
    ax.set_ylim(-1.6, 1.6)
    ax.xaxis.set_major_locator(MultipleLocator(xmajor[i]))
    ax.xaxis.set_minor_locator(MultipleLocator(0.1))
    ax.yaxis.set_major_locator(MultipleLocator(0.5))
    ax.yaxis.set_minor_locator(MultipleLocator(0.1))
    if xmajor[i] == 0.5:
        ax.xaxis.set_major_formatter(plt.FormatStrFormatter('%.1f'))
    else:
        ax.xaxis.set_major_formatter(plt.FormatStrFormatter('%d'))
    ax.yaxis.set_major_formatter(plt.FormatStrFormatter('%.1f'))
    ax.tick_params(which='both', direction='in', top=True, right=True, width=1.3)
    ax.tick_params(which='major', length=7)
    ax.tick_params(which='minor', length=3.5)
    ax.tick_params(axis='x', which='major', pad=13, labelsize=20)
    ax.tick_params(axis='y', which='major', pad=8, labelsize=20)
    for sp in ax.spines.values():
        sp.set_linewidth(1.6)

    ax.text(0.08, 0.935, titles[i], transform=ax.transAxes, fontsize=18,
            va='top', ha='left', linespacing=1.45)
    ax.set_ylabel(ylabels[i], fontsize=18)
    ax.yaxis.set_label_coords(-0.24, 0.5)
    ax.set_xlabel(xlabels[i], fontsize=20)
    ax.xaxis.set_label_coords(0.5, -0.155)

    if i == 0:
        ax.plot([4.05], [-1.23], linestyle='none', marker='o', markersize=10.5,
                markerfacecolor='#ff0000', markeredgecolor='black', markeredgewidth=0.9)
        ax.text(4.16, -1.23, 'median offset', fontsize=18, va='center', ha='left')

fig.savefig('out.png', dpi=100)
